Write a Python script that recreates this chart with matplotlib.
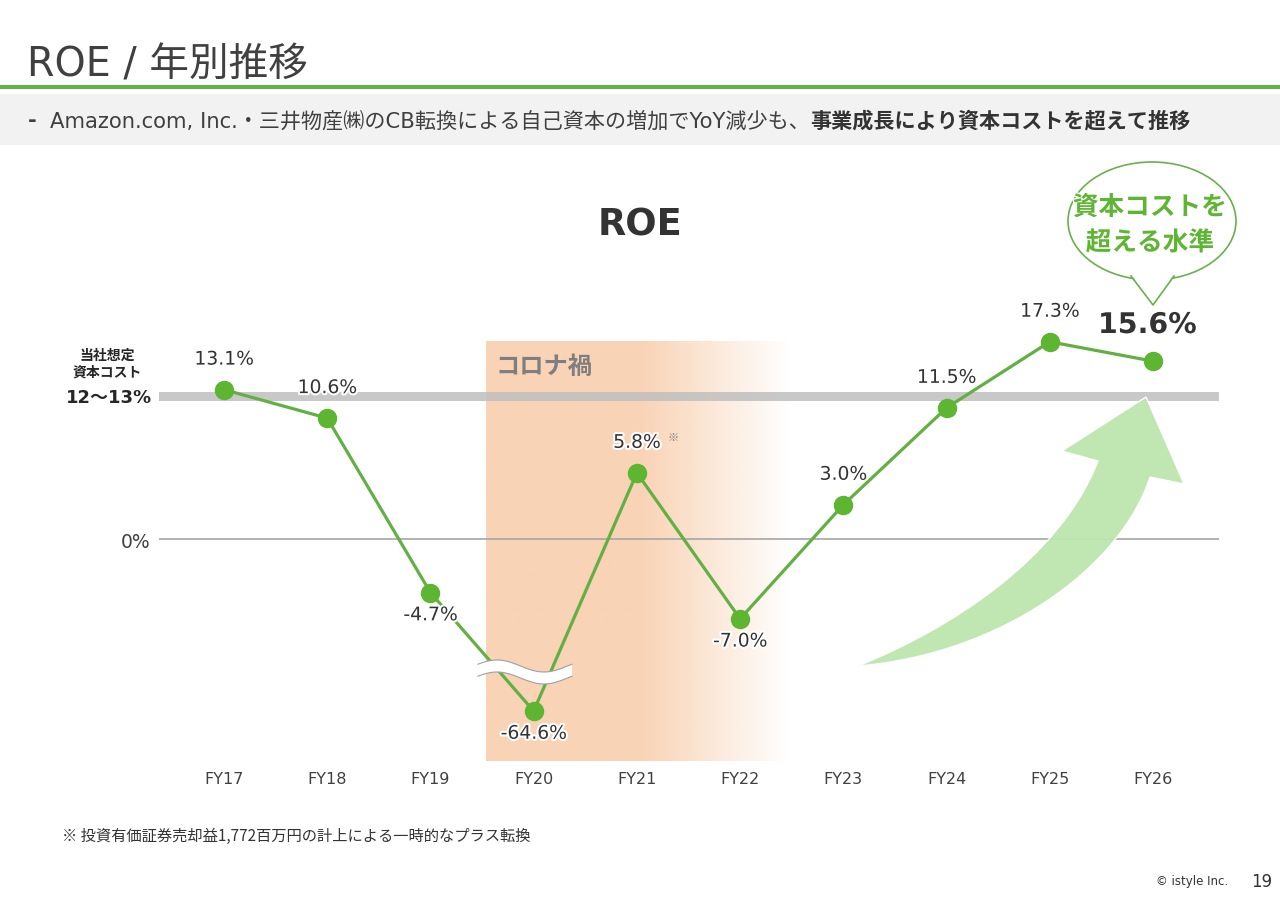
import numpy as np
import matplotlib
matplotlib.use("Agg")
import matplotlib.pyplot as plt
from matplotlib.patches import Ellipse, Polygon, PathPatch, Rectangle
from matplotlib.path import Path
import matplotlib.patheffects as pe

# ---------------- data ----------------
years = ["FY17", "FY18", "FY19", "FY20", "FY21", "FY22", "FY23", "FY24", "FY25", "FY26"]
roe = [13.1, 10.6, -4.7, -64.6, 5.8, -7.0, 3.0, 11.5, 17.3, 15.6]
label_side = ["above", "above", "below", "below", "above", "below", "above", "above", "above", "big"]
cost_low, cost_high = 12.0, 13.0

title_text = "ROE / 年別推移"
sub_normal = "Amazon.com, Inc.・三井物産㈱のCB転換による自己資本の増加でYoY減少も、"
sub_bold = "事業成長により資本コストを超えて推移"
chart_title = "ROE"
covid_text = "コロナ禍"
bubble_text = "資本コストを\n超える水準"
cost_label1 = "当社想定\n資本コスト"
cost_label2 = "12～13%"
footnote = "※ 投資有価証券売却益1,772百万円の計上による一時的なプラス転換"

# ---------------- style ----------------
GREEN = "#5DB532"
LINE_GREEN = "#62B044"
DARK = "#404040"
MIX = ["DejaVu Sans", "Noto Sans CJK JP"]
CJK = ["Noto Sans CJK JP", "DejaVu Sans"]

W, H = 1280, 904
fig = plt.figure(figsize=(W / 100, H / 100), dpi=100)
fig.patch.set_facecolor("white")


def fx(x):
    return x / W


def fy(y):
    return 1 - y / H


# ---------------- header ----------------
fig.text(fx(27), fy(66), title_text, family=MIX, fontsize=28.5, color=DARK, va="center", ha="left")
fig.add_artist(Rectangle((0, fy(90)), 1, 4 / H, transform=fig.transFigure, color="#62B246", lw=0))
fig.add_artist(Rectangle((0, fy(146)), 1, 51 / H, transform=fig.transFigure, color="#F2F2F2", lw=0))
fig.text(fx(28), fy(121), "-", family=MIX, fontsize=15.2, color=DARK, va="center", ha="left", weight="bold")
t1 = fig.text(fx(50), fy(121), sub_normal, family=MIX, fontsize=15.2, color=DARK, va="center", ha="left")
renderer = fig.canvas.get_renderer()
bb = t1.get_window_extent(renderer)
fig.text(bb.x1 / fig.bbox.width, fy(121), sub_bold, family=CJK, fontsize=15.2, color="#333333",
         va="center", ha="left", weight="bold")

# ---------------- axes with broken scale ----------------
BRK, K = -10.0, 0.0932


def fwd(v):
    v = np.asarray(v, dtype=float)
    return np.where(v >= BRK, v, BRK + (v - BRK) * K)


def inv(u):
    u = np.asarray(u, dtype=float)
    return np.where(u >= BRK, u, BRK + (u - BRK) / K)


ax = fig.add_axes([fx(159), fy(762), (1219 - 159) / W, (762 - 300) / H])
ax.set_yscale("function", functions=(fwd, inv))
ymax = 21.05
ymin = float(inv(-19.47))
ax.set_ylim(ymin, ymax)
ax.set_xlim(-0.63, 9.64)
for s in ax.spines.values():
    s.set_visible(False)
ax.set_facecolor("none")

x = np.arange(len(years))
ax.set_xticks(x)
ax.set_xticklabels(years, fontsize=11.5, color=DARK)
ax.set_yticks([0])
ax.set_yticklabels(["0%"], fontsize=13.5, color=DARK)
ax.tick_params(axis="both", length=0)
ax.tick_params(axis="x", pad=7)
ax.tick_params(axis="y", pad=6)

# covid shading (solid then fade)
sx0, sx1, sfade = 2.54, 5.48, 4.03
ncol = 400
xs = np.linspace(sx0, sx1, ncol)
t = np.clip((sx1 - xs) / (sx1 - sfade), 0, 1)
peach = np.array([249, 211, 181]) / 255
img = (1 - t)[:, None] * np.ones(3) + t[:, None] * peach
top_frac = (float(fwd(17.4)) - float(fwd(ymin))) / (float(fwd(ymax)) - float(fwd(ymin)))
ax.imshow(img[None, :, :], extent=[sx0, sx1, 0, top_frac], transform=ax.get_xaxis_transform(),
          aspect="auto", zorder=0.5, interpolation="bilinear")
ax.set_xlim(-0.63, 9.64)
ax.set_ylim(ymin, ymax)
ax.text(2.63, 15.2, covid_text, family=CJK, fontsize=17.5, weight="bold", color="#7F7F7F",
        ha="left", va="center", zorder=2)

# capital cost band and zero line
ax.axhspan(cost_low + 0.1, cost_high - 0.1, color="#BFBFBF", alpha=0.85, lw=0, zorder=1)
ax.axhline(0, color="#A6A6A6", lw=1.2, zorder=1)

# line
ax.plot(x, roe, color=LINE_GREEN, lw=2.3, zorder=3)
ax.plot(x, roe, ls="none", marker="o", ms=13, color=GREEN, zorder=4)

halo = [pe.withStroke(linewidth=3, foreground="white")]
for xi, v, side in zip(x, roe, label_side):
    txt = f"{v:.1f}%"
    if side == "above":
        ax.annotate(txt, (xi, v), xytext=(0, 22), textcoords="offset points", ha="center", va="center",
                    fontsize=13.5, color="#333333", path_effects=halo, zorder=5)
    elif side == "below":
        ax.annotate(txt, (xi, v), xytext=(0, -16), textcoords="offset points", ha="center", va="center",
                    fontsize=13.5, color="#333333", path_effects=halo, zorder=5)
    else:
        ax.annotate(txt, (xi, v), xytext=(-4, 26), textcoords="offset points", ha="center", va="center",
                    fontsize=20.5, weight="bold", color="#333333", path_effects=halo, zorder=5)

# ※ mark on FY21
ax.annotate("※", (x[4], roe[4]), xytext=(26, 26), textcoords="offset points", ha="center", va="center",
            family=CJK, fontsize=8, color="#808080", zorder=5)

# y-side labels
fig.text(fx(107), fy(364), cost_label1, family=CJK, fontsize=10, weight="bold", color="#262626",
         ha="center", va="center", linespacing=1.25)
fig.text(fx(152), fy(398), cost_label2, family=MIX, fontsize=13, weight="bold", color="#262626",
         ha="right", va="center")

# chart title
fig.text(fx(640), fy(225), chart_title, fontsize=26.5, weight="bold", color="#333333", ha="center", va="center")

# ---------------- axis break symbol ----------------
xw = np.linspace(478, 572, 60)
yc = 673 - 6 * np.sin(2 * np.pi * (xw - 478) / 94 * 1.0 + 0.3)
upper = yc - 6
lower = yc + 6
poly = np.vstack([np.column_stack([xw, upper]), np.column_stack([xw[::-1], lower[::-1]])])
fig.add_artist(Polygon(np.column_stack([fx(poly[:, 0]), fy(poly[:, 1])]), closed=True,
                       transform=fig.transFigure, facecolor="white", edgecolor="none", zorder=2))
for yy in (upper, lower):
    fig.add_artist(plt.Line2D(fx(xw), fy(yy), transform=fig.transFigure, color="#A0A0A0", lw=0.8, zorder=3))

# ---------------- big arrow ----------------
pts = [(858, 667), (1000, 655), (1120, 570), (1150, 478),
       (1184, 485), (1146, 398), (1062, 452), (1098, 462),
       (1060, 560), (950, 630), (858, 667), (858, 667)]
codes = [Path.MOVETO, Path.CURVE4, Path.CURVE4, Path.CURVE4,
         Path.LINETO, Path.LINETO, Path.LINETO, Path.LINETO,
         Path.CURVE4, Path.CURVE4, Path.CURVE4, Path.CLOSEPOLY]
verts = [(fx(a), fy(b)) for a, b in pts]
fig.add_artist(PathPatch(Path(verts, codes), transform=fig.transFigure, facecolor="#BDE5AD",
                         edgecolor="white", lw=1, alpha=0.95, zorder=1))

# ---------------- speech bubble ----------------
bcx, bcy, bw, bh = 1152, 222, 168, 118
fig.add_artist(Ellipse((fx(bcx), fy(bcy)), bw / W, bh / H, transform=fig.transFigure,
                       facecolor="white", edgecolor="#6AB04C", lw=1.2, zorder=6))
tail = [(1131, 275), (1153, 306), (1174, 275)]
fig.add_artist(Polygon([(fx(a), fy(b)) for a, b in tail], closed=True, transform=fig.transFigure,
                       facecolor="white", edgecolor="none", zorder=7))
fig.add_artist(plt.Line2D([fx(1131), fx(1153), fx(1174)], [fy(277), fy(306), fy(277)],
                          transform=fig.transFigure, color="#6AB04C", lw=1.2, zorder=8))
fig.text(fx(1150), fy(226), bubble_text, family=CJK, fontsize=18.5, weight="bold", color=GREEN,
         ha="center", va="center", linespacing=1.4, zorder=9,
         path_effects=[pe.withStroke(linewidth=2, foreground="white")])

# ---------------- footer ----------------
fig.text(fx(62), fy(836), footnote, family=CJK, fontsize=11, color="#333333", ha="left", va="center")
fig.text(fx(1228), fy(882), "© istyle Inc.", fontsize=8.5, color="#333333", ha="right", va="center")
fig.text(fx(1272), fy(882), "19", fontsize=12, color="#333333", ha="right", va="center")

fig.savefig("out.png", dpi=100, facecolor="white")
